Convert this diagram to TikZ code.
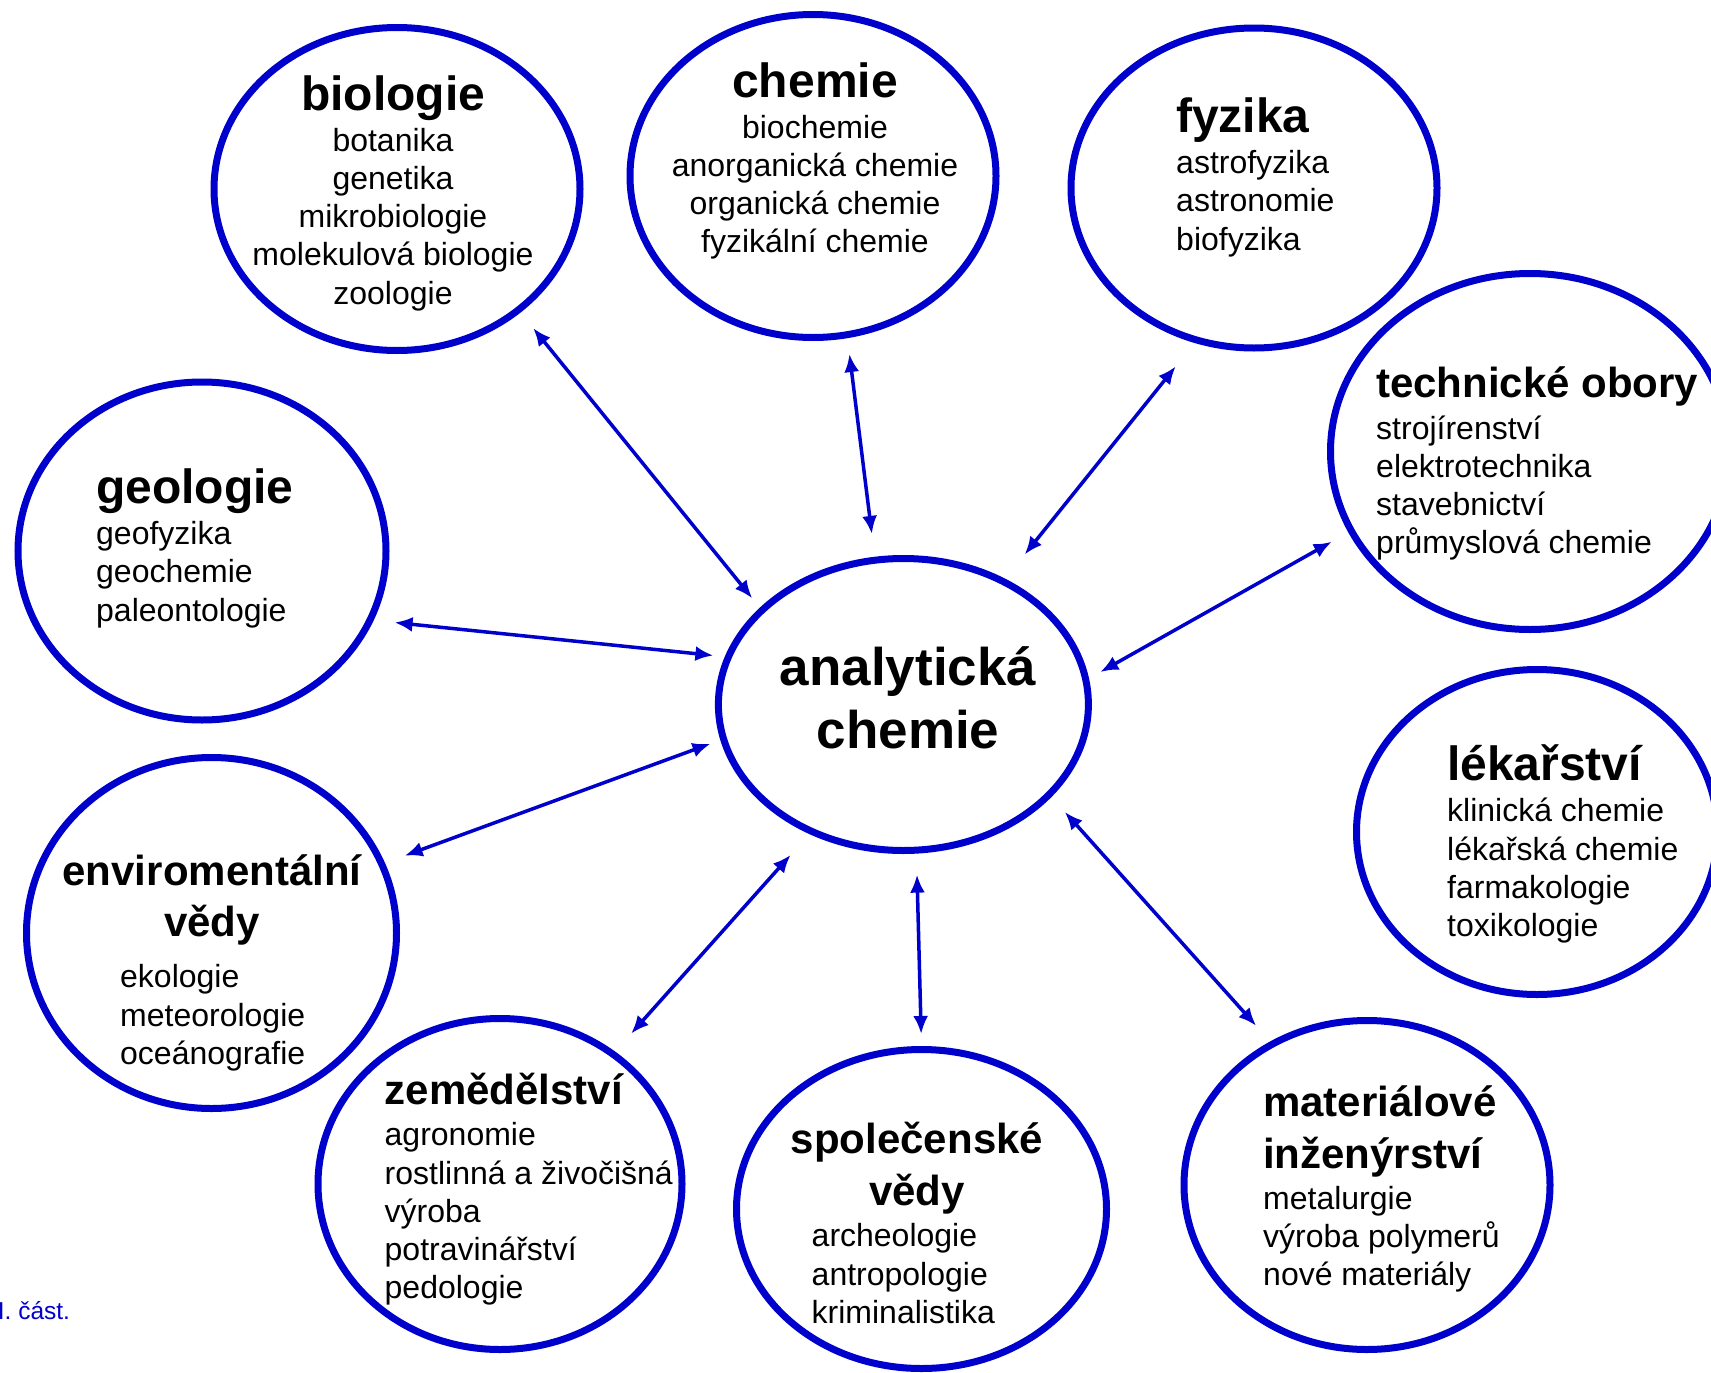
\documentclass[tikz,border=0pt]{standalone}
\usepackage{fontspec}
\setmainfont{Liberation Sans}
\usetikzlibrary{shapes.geometric,arrows.meta}

\definecolor{fieldblue}{RGB}{0,0,204}

\begin{document}
\begin{tikzpicture}[x=1pt, y=-1pt,
    field/.style={ellipse, draw=fieldblue, line width=7pt, inner sep=0pt,
                  minimum width=366pt, minimum height=323pt},
    head/.style={inner sep=0pt, font=\fontsize{48}{52}\selectfont\bfseries},
    subhead/.style={inner sep=0pt, font=\fontsize{42}{51.7}\selectfont\bfseries},
    list/.style={inner sep=0pt, font=\fontsize{32}{38.3}\selectfont},
    link/.style={draw=fieldblue, line width=3.5pt, >={Latex[length=18pt,width=15pt]}, <->}]
    \useasboundingbox[fill=white] (0,0) rectangle (1711,1373);

    % Centre (multi-line texts sit on the baseline of their last line)
    \node[field, minimum width=370pt, minimum height=292pt] (ac) at (903.4,704.5) {};
    \node[inner sep=0pt, anchor=base, align=center,
          font=\fontsize{53}{63.3}\selectfont\bfseries] (ac-t) at (908,748.3) {analytická\\chemie};

    % Upper row
    \node[field] (bio) at (397,189) {};
    \node[head, anchor=base] (bio-t) at (393,110) {biologie};
    \node[list, anchor=base, align=center] (bio-l) at (393,304.2) {botanika\\genetika\\mikrobiologie\\molekulová biologie\\zoologie};

    \node[field] (chem) at (813,176) {};
    \node[head, anchor=base] (chem-t) at (815,97) {chemie};
    \node[list, anchor=base, align=center] (chem-l) at (815,252.9) {biochemie\\anorganická chemie\\organická chemie\\fyzikální chemie};

    \node[field, minimum height=320pt] (fyz) at (1254,188) {};
    \node[head, anchor=base west] (fyz-t) at (1176,132) {fyzika};
    \node[list, anchor=base west, align=left] (fyz-l) at (1176,250.1) {astrofyzika\\astronomie\\biofyzika};

    % Right side
    \node[field, minimum width=399pt, minimum height=356pt] (tech) at (1530,451.5) {};
    \node[subhead, anchor=base west] (tech-t) at (1376,397) {technické obory};
    \node[list, anchor=base west, align=left] (tech-l) at (1376,553.9) {strojírenství\\elektrotechnika\\stavebnictví\\průmyslová chemie};

    \node[field, minimum width=361pt, minimum height=325pt] (lek) at (1537,832) {};
    \node[head, anchor=base west] (lek-t) at (1447,780) {lékařství};
    \node[list, anchor=base west, align=left] (lek-l) at (1447,936.6) {klinická chemie\\lékařská chemie\\farmakologie\\toxikologie};

    % Left side
    \node[field, minimum width=368pt, minimum height=338pt] (geo) at (202,551) {};
    \node[head, anchor=base west] (geo-t) at (96,503) {geologie};
    \node[list, anchor=base west, align=left] (geo-l) at (96,621.1) {geofyzika\\geochemie\\paleontologie};

    \node[field, minimum width=370pt, minimum height=351pt] (env) at (211.5,933) {};
    \node[subhead, anchor=base, align=center] (env-t) at (212,936.7) {enviromentální\\vědy};
    \node[list, anchor=base west, align=left] (env-l) at (120,1064.5) {ekologie\\meteorologie\\oceánografie};

    % Lower row
    \node[field, minimum width=364pt, minimum height=331pt] (zem) at (500,1184) {};
    \node[subhead, anchor=base west] (zem-t) at (384.5,1104) {zemědělství};
    \node[list, anchor=base west, align=left] (zem-l) at (384.5,1298.9) {agronomie\\rostlinná a živočišná\\výroba\\potravinářství\\pedologie};

    \node[field, minimum width=370pt, minimum height=319pt] (spol) at (921.5,1209) {};
    \node[subhead, anchor=base, align=center] (spol-t) at (917,1205) {společenské\\vědy};
    \node[list, anchor=base west, align=left] (spol-l) at (811.5,1323.3) {archeologie\\antropologie\\kriminalistika};

    \node[field, minimum height=329pt] (mat) at (1367,1185) {};
    \node[subhead, anchor=base west, align=left] (mat-t) at (1263,1168) {materiálové\\inženýrství};
    \node[list, anchor=base west, align=left] (mat-l) at (1263,1285.8) {metalurgie\\výroba polymerů\\nové materiály};

    \node[inner sep=0pt, anchor=base west, text=fieldblue,
          font=\fontsize{24.5}{29}\selectfont] (part) at (-2.3,1319.3) {I. část.};

    % Links to the centre
    \draw[link, shorten <=20pt, shorten >=12pt] (bio.-45) -- (ac.146);
    \draw[link, shorten <=16pt, shorten >=23pt] (chem.-78) -- (ac.101);
    \draw[link, shorten <=30pt, shorten >=31pt] (fyz.-111) -- (ac.51);
    \draw[link, shorten <=19pt, shorten >=13pt] (tech.-156) -- (ac.8.5);
    \draw[link, shorten <=21pt, shorten >=11.5pt] (geo.-22) -- (ac.165);
    \draw[link, shorten <=21pt, shorten >=10.5pt] (env.22) -- (ac.-169);
    \draw[link, shorten <=24pt, shorten >=28pt] (zem.49) -- (ac.-126);
    \draw[link, shorten <=12pt, shorten >=21pt] (spol.90) -- (ac.-85);
    \draw[link, shorten <=21pt, shorten >=20pt] (mat.124.5) -- (ac.-32);
\end{tikzpicture}
\end{document}
